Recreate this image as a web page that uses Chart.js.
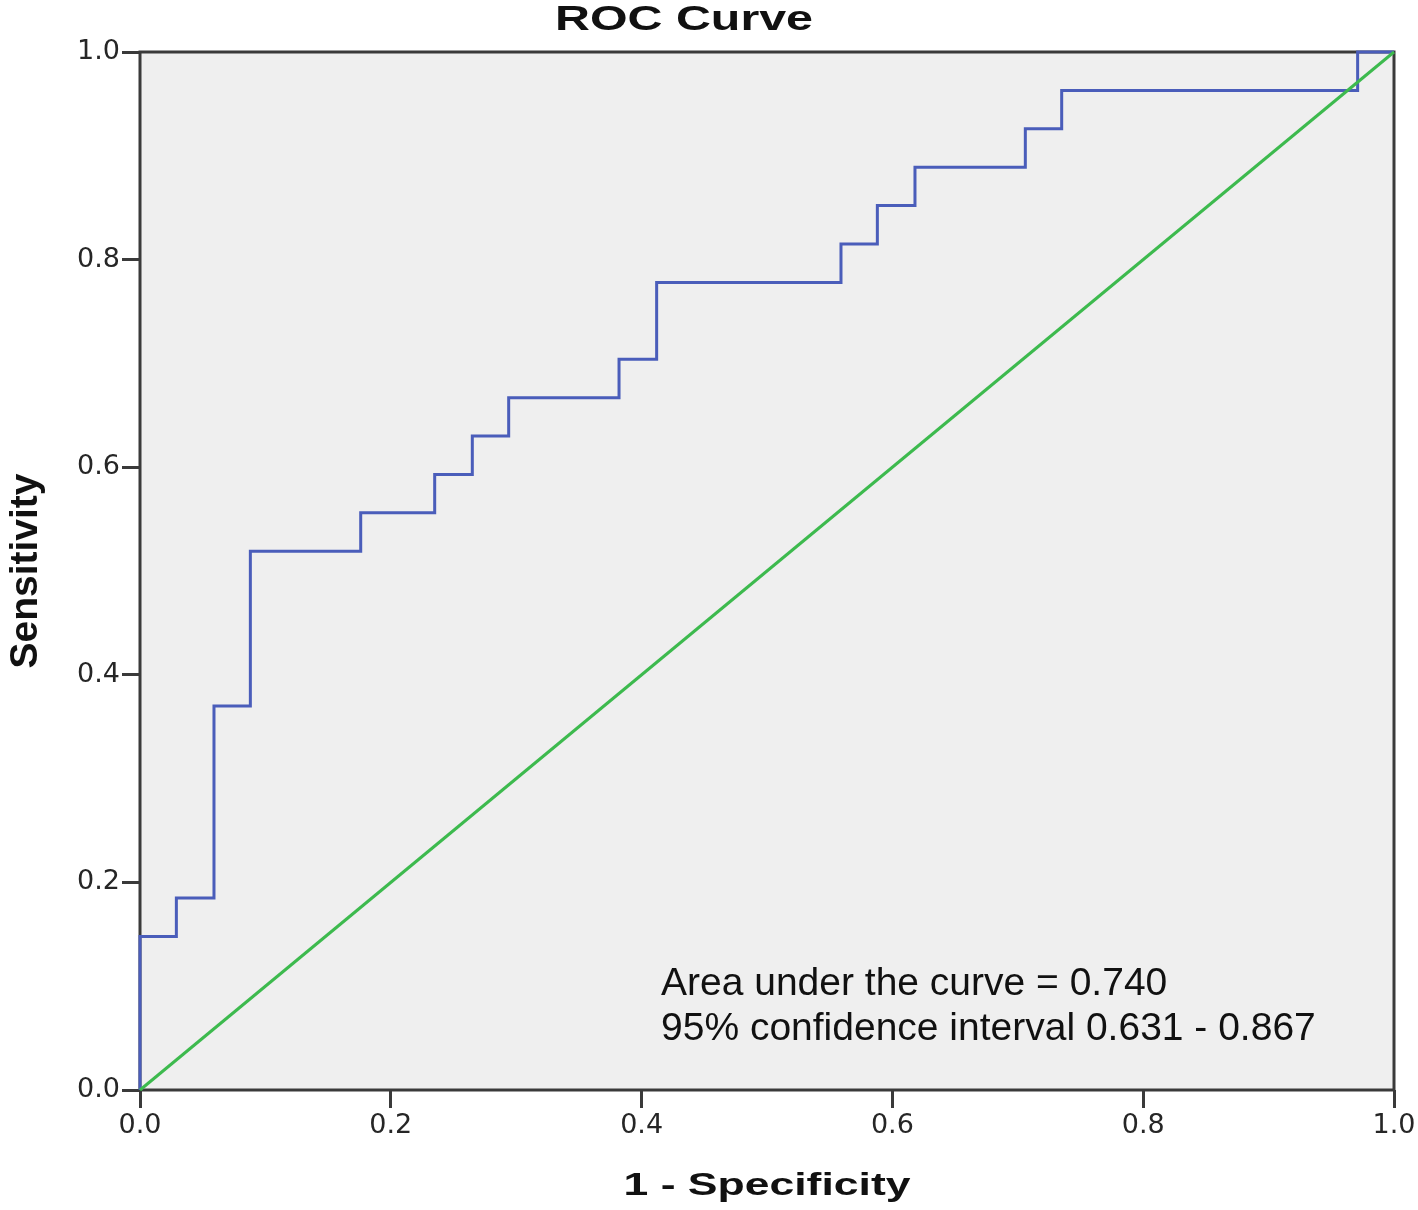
<!DOCTYPE html>
<html><head><meta charset="utf-8">
<script src="https://cdn.jsdelivr.net/npm/chart.js@4.4.1/dist/chart.umd.min.js"></script>
<style>html,body{margin:0;padding:0;background:#fff}#wrap{width:1418px;height:1210px;position:relative}</style>
</head><body><div id="wrap"><canvas id="c" width="1418" height="1210"></canvas></div>
<script>
// ROC curve vertices (1 - Specificity, Sensitivity)
const rocFpr = [0.000, 0.000, 0.029, 0.029, 0.059, 0.059, 0.088, 0.088, 0.176, 0.176, 0.235, 0.235, 0.265, 0.265, 0.294, 0.294, 0.382, 0.382, 0.412, 0.412, 0.559, 0.559, 0.588, 0.588, 0.618, 0.618, 0.706, 0.706, 0.735, 0.735, 0.971, 0.971, 1.000];
const rocTpr = [0.000, 0.148, 0.148, 0.185, 0.185, 0.370, 0.370, 0.519, 0.519, 0.556, 0.556, 0.593, 0.593, 0.630, 0.630, 0.667, 0.667, 0.704, 0.704, 0.778, 0.778, 0.815, 0.815, 0.852, 0.852, 0.889, 0.889, 0.926, 0.926, 0.963, 0.963, 1.000, 1.000];
// Reference (chance) line
const refFpr = [0, 1];
const refTpr = [0, 1];
// Tick values
const xTicks = [0.0, 0.2, 0.4, 0.6, 0.8, 1.0];
const yTicks = [0.0, 0.2, 0.4, 0.6, 0.8, 1.0];
// Texts
const chartTitle = 'ROC Curve';
const xTitle = '1 - Specificity';
const yTitle = 'Sensitivity';
const noteLines = ['Area under the curve = 0.740', '95% confidence interval 0.631 - 0.867'];

const AXIS_COLOR = '#3a3a3a';
const tickFont = {family: "'DejaVu Sans', sans-serif", size: 27};

function fitText(ctx, text, cx, baseline, width) {
  const w = ctx.measureText(text).width;
  const s = width / w;
  ctx.save();
  ctx.translate(cx, baseline);
  ctx.scale(s, 1);
  ctx.textAlign = 'center';
  ctx.textBaseline = 'alphabetic';
  ctx.fillText(text, 0, 0);
  ctx.restore();
}

const framePlugin = {
  id: 'frame',
  beforeDraw(chart) {
    const {ctx, chartArea: a} = chart;
    ctx.save();
    ctx.fillStyle = '#ffffff';
    ctx.fillRect(0, 0, chart.width, chart.height);
    ctx.fillStyle = '#efefef';
    ctx.fillRect(a.left, a.top, a.right - a.left, a.bottom - a.top);
    ctx.restore();
  },
  beforeDatasetsDraw(chart) {
    const {ctx, chartArea: a} = chart;
    ctx.save();
    ctx.strokeStyle = AXIS_COLOR;
    ctx.lineWidth = 3;
    ctx.strokeRect(a.left, a.top, a.right - a.left, a.bottom - a.top);
    ctx.restore();
  },
  afterDraw(chart) {
    const {ctx, chartArea: a} = chart;
    ctx.save();
    ctx.fillStyle = '#111';
    ctx.font = "bold 35px 'Liberation Sans', Arial, sans-serif";
    fitText(ctx, chartTitle, 684, 30, 258);
    ctx.font = "bold 32px 'Liberation Sans', Arial, sans-serif";
    fitText(ctx, xTitle, (a.left + a.right) / 2, 1195, 287);
    // y title
    ctx.font = "bold 39px 'Liberation Sans', Arial, sans-serif";
    ctx.save();
    ctx.translate(37, (a.top + a.bottom) / 2);
    ctx.rotate(-Math.PI / 2);
    ctx.textAlign = 'center';
    ctx.textBaseline = 'alphabetic';
    ctx.fillText(yTitle, 0, 0);
    ctx.restore();
    // annotation
    ctx.font = "39px 'Liberation Sans', Arial, sans-serif";
    ctx.textAlign = 'left';
    ctx.textBaseline = 'alphabetic';
    ctx.fillText(noteLines[0], 661, 995);
    ctx.fillText(noteLines[1], 661, 1040);
    ctx.restore();
  }
};

const axisCommon = (ticks) => ({
  type: 'linear',
  min: 0, max: 1,
  afterBuildTicks: s => { s.ticks = ticks.map(v => ({value: v})); },
  grid: {display: true, drawOnChartArea: false, drawTicks: true, tickLength: 18, lineWidth: 3, color: AXIS_COLOR},
  border: {display: false},
  ticks: {font: tickFont, color: '#262626', padding: 2, autoSkip: false, maxRotation: 0,
          callback: v => Number(v).toFixed(1)}
});

const xScale = Object.assign(axisCommon(xTicks), {position: 'bottom', afterFit: s => { s.height = 120; }});
const yScale = Object.assign(axisCommon(yTicks), {position: 'left', afterFit: s => { s.width = 140; }});

new Chart(document.getElementById('c'), {
  type: 'scatter',
  data: {
    datasets: [
      {label: 'Reference Line', data: refFpr.map((x, i) => ({x, y: refTpr[i]})),
       showLine: true, borderColor: '#3dba4e', borderWidth: 3, pointRadius: 0, clip: false, tension: 0},
      {label: 'ROC', data: rocFpr.map((x, i) => ({x, y: rocTpr[i]})),
       showLine: true, borderColor: '#4a5dba', borderWidth: 3, pointRadius: 0, clip: false, tension: 0,
       borderJoinStyle: 'miter'}
    ]
  },
  options: {
    responsive: false,
    devicePixelRatio: 1,
    animation: false,
    layout: {padding: {top: 52, right: 24, left: 0, bottom: 0}},
    plugins: {legend: {display: false}, tooltip: {enabled: false}, title: {display: false}},
    scales: {x: xScale, y: yScale}
  },
  plugins: [framePlugin]
});
</script></body></html>
